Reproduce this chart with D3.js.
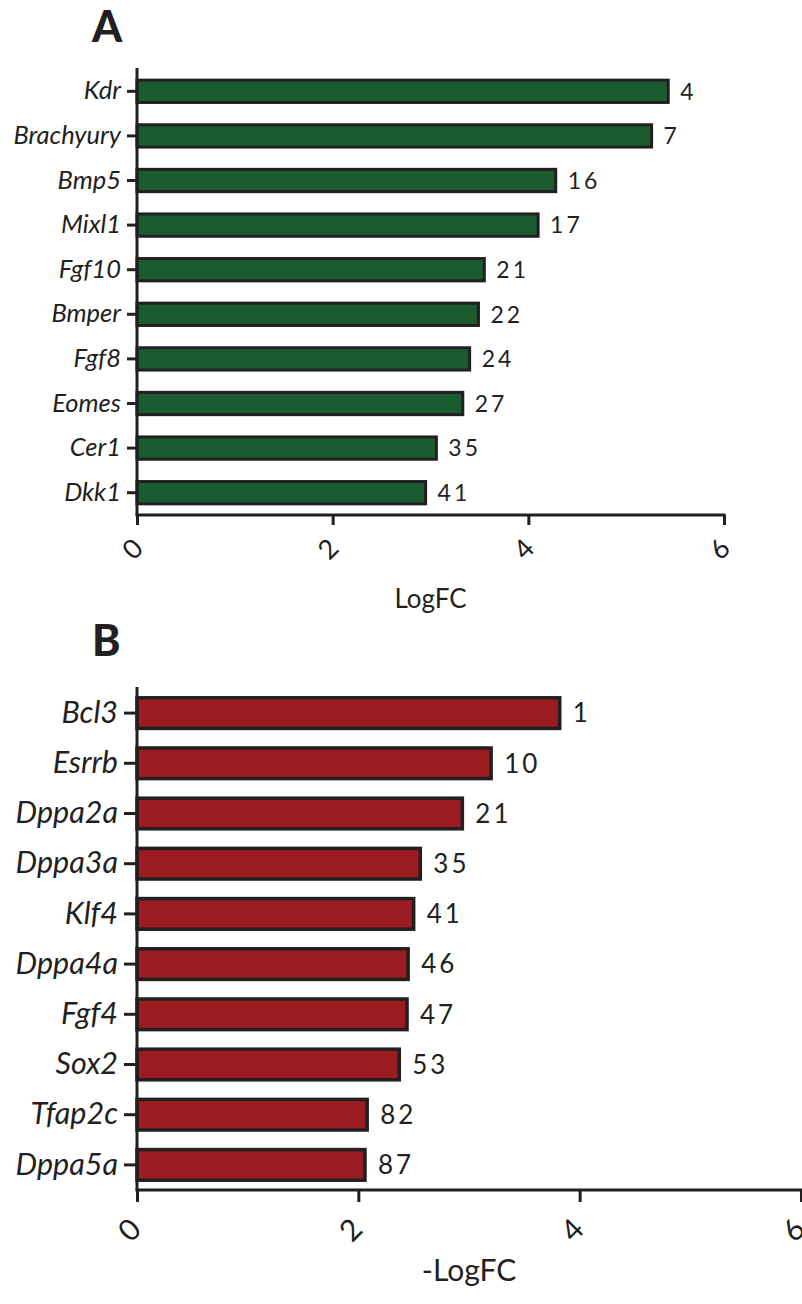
<!DOCTYPE html>
<html>
<head>
<meta charset="utf-8">
<script src="https://cdn.jsdelivr.net/npm/d3@7"></script>
<style>
  html, body { margin: 0; padding: 0; background: #fff; }
  svg { display: block; }
  text { fill: #231f20; font-family: Lato, "Open Sans", sans-serif; }
</style>
</head>
<body>
<svg id="chart" width="802" height="1304"></svg>
<script>
// Panel A: genes up-regulated (LogFC), with their rank
const genesA = ["Kdr", "Brachyury", "Bmp5", "Mixl1", "Fgf10", "Bmper", "Fgf8", "Eomes", "Cer1", "Dkk1"];
const logfcA = [5.43, 5.26, 4.28, 4.10, 3.55, 3.49, 3.40, 3.33, 3.06, 2.95];
const rankA  = [4, 7, 16, 17, 21, 22, 24, 27, 35, 41];

// Panel B: genes down-regulated (-LogFC), with their rank
const genesB = ["Bcl3", "Esrrb", "Dppa2a", "Dppa3a", "Klf4", "Dppa4a", "Fgf4", "Sox2", "Tfap2c", "Dppa5a"];
const logfcB = [3.82, 3.20, 2.94, 2.56, 2.50, 2.45, 2.44, 2.37, 2.08, 2.06];
const rankB  = [1, 10, 21, 35, 41, 46, 47, 53, 82, 87];

const xTicks = [0, 2, 4, 6];

const INK = "#231f20";
const svg = d3.select("#chart");

function drawPanel(cfg) {
  const g = svg.append("g");
  const rows = cfg.genes.map((gene, i) => ({ gene, value: cfg.values[i], rank: cfg.ranks[i] }));

  const x = d3.scaleLinear().domain([0, 6]).range([cfg.x0, cfg.x1]);
  const y = d3.scaleBand()
    .domain(cfg.genes)
    .range([cfg.yTop, cfg.yBottom])
    .paddingInner(cfg.padInner)
    .paddingOuter(cfg.padInner / 2);

  // panel letter
  g.append("text")
    .attr("x", 92).attr("y", cfg.letterY)
    .attr("font-size", 43).attr("font-weight", 900)
    .text(cfg.letter);

  // bars
  g.selectAll("rect.bar").data(rows).join("rect")
    .attr("class", "bar")
    .attr("x", x(0))
    .attr("y", d => y(d.gene))
    .attr("width", d => x(d.value) - x(0))
    .attr("height", y.bandwidth())
    .attr("fill", cfg.color)
    .attr("stroke", INK)
    .attr("stroke-width", cfg.barStroke);

  // rank labels at bar ends
  g.selectAll("text.rank").data(rows).join("text")
    .attr("class", "rank")
    .attr("x", d => x(d.value) + cfg.rankGap)
    .attr("y", d => y(d.gene) + y.bandwidth() / 2)
    .attr("dy", "0.36em")
    .attr("font-size", cfg.rankSize)
    .attr("letter-spacing", cfg.rankSpacing)
    .text(d => d.rank);

  // y axis with gene names
  const yAxis = g.append("g")
    .attr("transform", `translate(${x(0)},0)`)
    .call(d3.axisLeft(y).tickSize(cfg.yTick).tickSizeOuter(0).tickPadding(cfg.yPad));
  yAxis.select(".domain").attr("stroke", INK).attr("stroke-width", 3)
    .attr("d", `M0,${cfg.yTop - 1}V${cfg.yBottom}`);
  yAxis.selectAll(".tick line").attr("stroke", INK).attr("stroke-width", 3);
  yAxis.selectAll(".tick text")
    .attr("font-family", "Lato, sans-serif")
    .attr("font-style", "italic")
    .attr("font-size", cfg.geneSize)
    .attr("fill", INK);

  // x axis
  const xAxis = g.append("g")
    .attr("transform", `translate(0,${cfg.yBottom})`)
    .call(d3.axisBottom(x).tickValues(xTicks).tickSize(cfg.xTick).tickSizeOuter(0).tickFormat(d3.format("d")));
  xAxis.select(".domain").attr("stroke", INK).attr("stroke-width", 3)
    .attr("d", `M${x(0) - 1.5},0H${cfg.x1 + 1.5}`);
  xAxis.selectAll(".tick line").attr("stroke", INK).attr("stroke-width", 3);
  xAxis.selectAll(".tick text")
    .attr("font-family", "Lato, sans-serif")
    .attr("font-size", cfg.tickSize)
    .attr("fill", INK)
    .attr("text-anchor", "middle")
    .attr("y", null)
    .attr("dy", "0.35em")
    .attr("transform", `translate(${cfg.tickDx},${cfg.tickDy}) rotate(-45)`);

  // axis title
  g.append("text")
    .attr("x", (cfg.x0 + cfg.x1) / 2)
    .attr("y", cfg.titleY)
    .attr("text-anchor", "middle")
    .attr("font-size", cfg.titleSize)
    .text(cfg.title);
}

drawPanel({
  letter: "A", letterY: 42,
  genes: genesA, values: logfcA, ranks: rankA,
  color: "#1a5b30",
  x0: 137, x1: 724, yTop: 69, yBottom: 515,
  padInner: 0.5, barStroke: 3,
  rankGap: 12, rankSize: 23, rankSpacing: 3,
  yTick: 10, yPad: 6, geneSize: 25.5,
  xTick: 10, tickSize: 27, tickDx: -5, tickDy: 34,
  title: "LogFC", titleY: 608, titleSize: 26
});

drawPanel({
  letter: "B", letterY: 656,
  genes: genesB, values: logfcB, ranks: rankB,
  color: "#9b1b21",
  x0: 137, x1: 801, yTop: 688, yBottom: 1190,
  padInner: 0.39, barStroke: 3.5,
  rankGap: 13, rankSize: 26, rankSpacing: 3,
  yTick: 13, yPad: 6, geneSize: 30.5,
  xTick: 12, tickSize: 30, tickDx: -8, tickDy: 40,
  title: "-LogFC", titleY: 1281, titleSize: 30
});
</script>
</body>
</html>
